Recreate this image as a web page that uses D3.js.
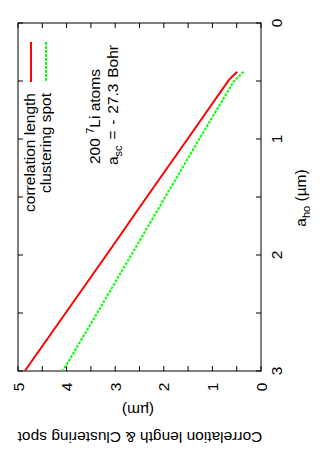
<html>
<head>
<script src="https://d3js.org/d3.v7.min.js"></script>
<style>
  body { margin: 0; background: #fff; }
  text { font-family: 'Liberation Sans', Arial, sans-serif; fill: #000; }
</style>
</head>
<body>
<div id="chart"></div>
<script>
// values
var aHo        = [0.42, 0.49, 1.0, 1.5, 2.0, 2.5, 3.0];          // a_ho (um)
var corrLength = [0.49, 0.66, 1.51, 2.35, 3.18, 4.02, 4.86];      // correlation length (um)
var aHoSpot    = [0.42, 0.51, 1.0, 1.5, 2.0, 2.5, 3.0];
var clusterSpot= [0.36, 0.57, 1.27, 1.97, 2.67, 3.37, 4.08];      // clustering spot (um)
var lengthTicks = [0, 1, 2, 3, 4, 5];
var aHoTicks = [0, 1, 2, 3];

var width = 327, height = 467;
var fontSize = 15.5;

// plot frame (the chart is turned a quarter turn)
var frameLeft = 18, frameRight = 261, frameTop = 23, frameBottom = 371;

var xs = d3.scaleLinear().domain([0, 5]).range([frameRight, frameLeft]);   // length
var ys = d3.scaleLinear().domain([0, 3]).range([frameTop, frameBottom]);   // a_ho

var svg = d3.select("#chart").append("svg")
    .attr("width", width)
    .attr("height", height);

// ticks, inward on all four sides
var ticksX = d3.range(0, 5.01, 0.5);
var ticksY = d3.range(0, 3.01, 0.5);
var tk = 5;
ticksX.forEach(function(v) {
    svg.append("line").attr("x1", xs(v)).attr("x2", xs(v)).attr("y1", frameBottom).attr("y2", frameBottom - tk)
        .attr("stroke", "#000").attr("stroke-width", 1);
    svg.append("line").attr("x1", xs(v)).attr("x2", xs(v)).attr("y1", frameTop).attr("y2", frameTop + tk)
        .attr("stroke", "#000").attr("stroke-width", 1);
});
ticksY.forEach(function(v) {
    svg.append("line").attr("x1", frameRight).attr("x2", frameRight - tk).attr("y1", ys(v)).attr("y2", ys(v))
        .attr("stroke", "#000").attr("stroke-width", 1);
    svg.append("line").attr("x1", frameLeft).attr("x2", frameLeft + tk).attr("y1", ys(v)).attr("y2", ys(v))
        .attr("stroke", "#000").attr("stroke-width", 1);
});

// frame
svg.append("rect")
    .attr("x", frameLeft).attr("y", frameTop)
    .attr("width", frameRight - frameLeft).attr("height", frameBottom - frameTop)
    .attr("fill", "none").attr("stroke", "#000").attr("stroke-width", 1);

// tick labels, all turned -90
svg.selectAll(".xlab").data(lengthTicks).enter().append("text")
    .attr("class", "xlab")
    .attr("transform", function(d) { return "translate(" + (xs(d) + 5.5) + ",387) rotate(-90)"; })
    .attr("text-anchor", "middle")
    .style("font-size", fontSize + "px")
    .text(function(d) { return d; });

svg.selectAll(".ylab").data(aHoTicks).enter().append("text")
    .attr("class", "ylab")
    .attr("transform", function(d) { return "translate(281.5," + ys(d) + ") rotate(-90)"; })
    .attr("text-anchor", "middle")
    .style("font-size", fontSize + "px")
    .text(function(d) { return d; });

// axis titles
svg.append("text")
    .attr("transform", "translate(138,405) rotate(180)")
    .attr("text-anchor", "middle")
    .style("font-size", fontSize + "px")
    .text("(\u00b5m)");
svg.append("text")
    .attr("transform", "translate(140,432) rotate(180)")
    .attr("text-anchor", "middle")
    .style("font-size", fontSize + "px")
    .text("Correlation length & Clustering spot");

var ah = svg.append("text")
    .attr("transform", "translate(305.5,198) rotate(-90)")
    .attr("text-anchor", "middle")
    .style("font-size", fontSize + "px");
ah.append("tspan").text("a");
ah.append("tspan").attr("dy", 4).style("font-size", "11px").text("ho");
ah.append("tspan").attr("dy", -4).text(" (\u00b5m)");

// curves
var line = d3.line()
    .x(function(d) { return xs(d[1]); })
    .y(function(d) { return ys(d[0]); });

svg.append("path")
    .datum(d3.zip(aHo, corrLength))
    .attr("d", line)
    .attr("fill", "none")
    .attr("stroke", "#ff0000")
    .attr("stroke-width", 2);

svg.append("path")
    .datum(d3.zip(aHoSpot, clusterSpot))
    .attr("d", line)
    .attr("fill", "none")
    .attr("stroke", "#00ff00")
    .attr("stroke-width", 2)
    .attr("stroke-dasharray", "2.7,1.3");

// legend
svg.append("line").attr("x1", 31).attr("x2", 31).attr("y1", 42).attr("y2", 82)
    .attr("stroke", "#ff0000").attr("stroke-width", 2);
svg.append("line").attr("x1", 46).attr("x2", 46).attr("y1", 42).attr("y2", 82)
    .attr("stroke", "#00ff00").attr("stroke-width", 2).attr("stroke-dasharray", "2.7,1.3");

svg.append("text")
    .attr("transform", "translate(34.5,93) rotate(-90)")
    .attr("text-anchor", "end")
    .style("font-size", fontSize + "px")
    .text("correlation length");
svg.append("text")
    .attr("transform", "translate(50.5,93) rotate(-90)")
    .attr("text-anchor", "end")
    .style("font-size", fontSize + "px")
    .text("clustering spot");

// annotations
var t1 = svg.append("text")
    .attr("transform", "translate(100,164) rotate(-90)")
    .style("font-size", fontSize + "px");
t1.append("tspan").text("200 ");
t1.append("tspan").attr("dy", -6).style("font-size", "11px").text("7");
t1.append("tspan").attr("dy", 6).text("Li atoms");

var t2 = svg.append("text")
    .attr("transform", "translate(118.3,165) rotate(-90)")
    .style("font-size", fontSize + "px")
    .style("word-spacing", "1.5px");
t2.append("tspan").text("a");
t2.append("tspan").attr("dy", 4).style("font-size", "11px").text("sc");
t2.append("tspan").attr("dy", -4).text(" = - 27.3 Bohr");
</script>
</body>
</html>
